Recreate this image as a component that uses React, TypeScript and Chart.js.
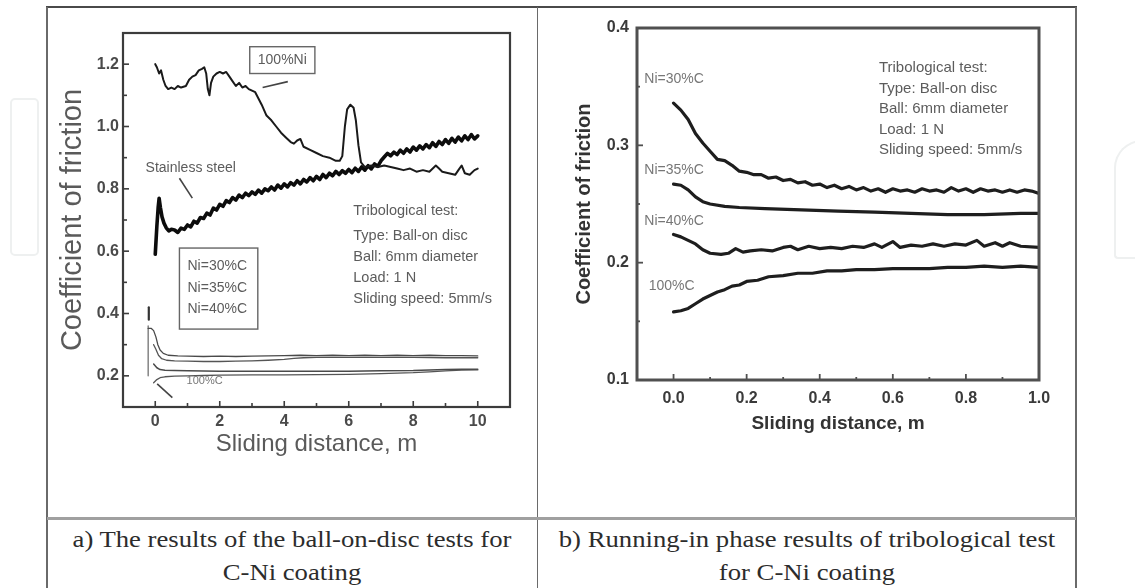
import React, { useEffect, useRef } from "react";
import { Chart, registerables } from "chart.js";

Chart.register(...registerables);

const SANS = "'Liberation Sans', Arial, sans-serif";
const SERIF = "'Liberation Serif', 'Times New Roman', serif";

// ---------------- Left panel data (a) ----------------
const NI100_X = [0.0, 0.05, 0.12, 0.18, 0.25, 0.32, 0.4, 0.5, 0.6, 0.7, 0.8, 0.95, 1.05, 1.15, 1.25, 1.35, 1.45, 1.52, 1.58, 1.63, 1.68, 1.73, 1.8, 1.9, 2.0, 2.1, 2.2, 2.3, 2.4, 2.5, 2.6, 2.7, 2.8, 2.9, 3.0, 3.1, 3.2, 3.3, 3.45, 3.6, 3.75, 3.9, 4.05, 4.2, 4.3, 4.4, 4.5, 4.6, 4.8, 5.0, 5.2, 5.4, 5.6, 5.72, 5.8, 5.88, 5.95, 6.05, 6.15, 6.22, 6.3, 6.38, 6.5, 6.7, 6.9, 7.1, 7.3, 7.5, 7.7, 7.9, 8.1, 8.3, 8.5, 8.7, 8.8, 8.9, 9.1, 9.3, 9.4, 9.5, 9.6, 9.75, 9.9, 10.0];
const NI100_Y = [1.2, 1.19, 1.17, 1.18, 1.15, 1.13, 1.12, 1.125, 1.12, 1.13, 1.125, 1.13, 1.15, 1.16, 1.165, 1.18, 1.185, 1.19, 1.17, 1.12, 1.1, 1.14, 1.16, 1.17, 1.175, 1.17, 1.175, 1.16, 1.145, 1.13, 1.14, 1.125, 1.13, 1.12, 1.115, 1.11, 1.09, 1.07, 1.035, 1.02, 1.0, 0.98, 0.965, 0.95, 0.945, 0.955, 0.96, 0.935, 0.925, 0.915, 0.905, 0.9, 0.89, 0.89, 0.905, 1.0, 1.055, 1.07, 1.06, 1.02, 0.94, 0.885, 0.87, 0.875, 0.87, 0.875, 0.87, 0.865, 0.86, 0.865, 0.855, 0.86, 0.855, 0.875, 0.865, 0.855, 0.85, 0.845, 0.86, 0.875, 0.85, 0.845, 0.86, 0.865];

const STEEL_X = [0.0, 0.05, 0.09, 0.12, 0.16, 0.21, 0.27, 0.34, 0.42, 0.5, 0.6, 0.7, 0.8, 0.9, 1.0, 1.1, 1.2, 1.3, 1.4, 1.5, 1.6, 1.7, 1.8, 1.9, 2.0, 2.1, 2.2, 2.3, 2.4, 2.5, 2.6, 2.7, 2.8, 2.9, 3.0, 3.1, 3.2, 3.3, 3.4, 3.5, 3.6, 3.7, 3.8, 3.9, 4.0, 4.1, 4.2, 4.3, 4.4, 4.5, 4.6, 4.7, 4.8, 4.9, 5.0, 5.1, 5.2, 5.3, 5.4, 5.5, 5.6, 5.7, 5.8, 5.9, 6.0, 6.1, 6.2, 6.3, 6.4, 6.5, 6.6, 6.7, 6.8, 6.9, 7.0, 7.1, 7.2, 7.3, 7.4, 7.5, 7.6, 7.7, 7.8, 7.9, 8.0, 8.1, 8.2, 8.3, 8.4, 8.5, 8.6, 8.7, 8.8, 8.9, 9.0, 9.1, 9.2, 9.3, 9.4, 9.5, 9.6, 9.7, 9.8, 9.9, 10.0];
const STEEL_Y = [0.59, 0.68, 0.74, 0.77, 0.74, 0.71, 0.69, 0.675, 0.665, 0.67, 0.668, 0.66, 0.674, 0.67, 0.684, 0.678, 0.696, 0.69, 0.708, 0.705, 0.722, 0.716, 0.738, 0.732, 0.75, 0.744, 0.762, 0.756, 0.772, 0.764, 0.78, 0.772, 0.786, 0.778, 0.79, 0.782, 0.796, 0.786, 0.8, 0.794, 0.806, 0.796, 0.812, 0.802, 0.816, 0.806, 0.82, 0.812, 0.826, 0.816, 0.83, 0.822, 0.836, 0.826, 0.84, 0.83, 0.846, 0.836, 0.85, 0.842, 0.856, 0.846, 0.858, 0.85, 0.862, 0.852, 0.866, 0.856, 0.87, 0.86, 0.874, 0.864, 0.88, 0.872, 0.89, 0.902, 0.914, 0.906, 0.918, 0.91, 0.924, 0.914, 0.928, 0.918, 0.934, 0.924, 0.938, 0.928, 0.942, 0.932, 0.948, 0.936, 0.952, 0.942, 0.958, 0.946, 0.962, 0.95, 0.966, 0.954, 0.97, 0.958, 0.974, 0.96, 0.97];

const LA30_X = [-0.22, -0.12, -0.05, 0.02, 0.08, 0.15, 0.25, 0.4, 0.7, 1.0, 1.5, 2.0, 2.5, 3.0, 3.5, 4.0, 4.5, 5.0, 5.5, 6.0, 6.5, 7.0, 7.5, 8.0, 8.5, 9.0, 9.5, 10.0];
const LA30_Y = [0.352, 0.352, 0.345, 0.325, 0.3, 0.283, 0.272, 0.266, 0.264, 0.263, 0.262, 0.263, 0.262, 0.263, 0.264, 0.265, 0.266, 0.265, 0.266, 0.265, 0.266, 0.265, 0.266, 0.265, 0.266, 0.265, 0.265, 0.264];
const LA35_X = [-0.05, 0.02, 0.1, 0.2, 0.35, 0.6, 1.0, 1.5, 2.0, 2.5, 3.0, 3.5, 4.0, 4.3, 4.6, 5.0, 6.0, 7.0, 8.0, 9.0, 10.0];
const LA35_Y = [0.3, 0.285, 0.266, 0.255, 0.25, 0.248, 0.247, 0.246, 0.246, 0.247, 0.248, 0.25, 0.253, 0.256, 0.258, 0.259, 0.259, 0.259, 0.259, 0.258, 0.258];
const LA40_X = [-0.05, 0.05, 0.15, 0.3, 0.6, 1.0, 2.0, 3.0, 4.0, 5.0, 6.0, 7.0, 8.0, 8.5, 9.0, 9.5, 10.0];
const LA40_Y = [0.238, 0.226, 0.22, 0.218, 0.217, 0.216, 0.215, 0.215, 0.215, 0.215, 0.215, 0.216, 0.217, 0.219, 0.22, 0.221, 0.221];
const LA100C_X = [-0.05, 0.05, 0.15, 0.3, 0.6, 1.0, 1.5, 2.0, 3.0, 4.0, 5.0, 6.0, 7.0, 8.0, 8.5, 9.0, 9.5, 10.0];
const LA100C_Y = [0.178, 0.188, 0.194, 0.197, 0.199, 0.2, 0.201, 0.202, 0.203, 0.203, 0.204, 0.205, 0.207, 0.21, 0.213, 0.216, 0.218, 0.219];
const SPIKE_X = [-0.22, -0.22];
const SPIKE_Y = [0.2, 0.36];
const SPIKE_TOP_X = [-0.2, -0.2];
const SPIKE_TOP_Y = [0.38, 0.42];

const LEFT_X_MAJOR = [0, 2, 4, 6, 8, 10];
const LEFT_X_MINOR = [1, 3, 5, 7, 9];
const LEFT_Y_MAJOR = [0.2, 0.4, 0.6, 0.8, 1.0, 1.2];
const LEFT_Y_MINOR = [0.3, 0.5, 0.7, 0.9, 1.1];

// ---------------- Right panel data (b) ----------------
const R30_X = [0.0, 0.02, 0.04, 0.06, 0.08, 0.1, 0.12, 0.14, 0.16, 0.18, 0.2, 0.22, 0.24, 0.26, 0.28, 0.3, 0.32, 0.34, 0.36, 0.38, 0.4, 0.42, 0.44, 0.46, 0.48, 0.5, 0.52, 0.54, 0.56, 0.58, 0.6, 0.62, 0.64, 0.66, 0.68, 0.7, 0.72, 0.74, 0.76, 0.78, 0.8, 0.82, 0.84, 0.86, 0.88, 0.9, 0.92, 0.94, 0.96, 0.98, 1.0];
const R30_Y = [0.336, 0.33, 0.322, 0.31, 0.302, 0.295, 0.288, 0.287, 0.283, 0.278, 0.277, 0.275, 0.275, 0.272, 0.273, 0.27, 0.271, 0.268, 0.269, 0.266, 0.267, 0.264, 0.266, 0.263, 0.265, 0.262, 0.264, 0.261, 0.263, 0.26, 0.263, 0.261, 0.262, 0.26, 0.263, 0.261, 0.262, 0.26, 0.264, 0.261, 0.263, 0.26, 0.263, 0.261, 0.262, 0.26, 0.262, 0.26, 0.262, 0.261, 0.259];
const R35_X = [0.0, 0.02, 0.04, 0.06, 0.08, 0.1, 0.14, 0.18, 0.25, 0.35, 0.45, 0.55, 0.65, 0.75, 0.85, 0.95, 1.0];
const R35_Y = [0.267, 0.266, 0.262, 0.256, 0.252, 0.25, 0.248, 0.247, 0.246, 0.245, 0.244, 0.243, 0.242, 0.241, 0.241, 0.242, 0.242];
const R40_X = [0.0, 0.02, 0.04, 0.06, 0.08, 0.1, 0.13, 0.15, 0.17, 0.19, 0.21, 0.24, 0.27, 0.3, 0.32, 0.34, 0.37, 0.4, 0.43, 0.46, 0.49, 0.52, 0.55, 0.57, 0.6, 0.62, 0.65, 0.68, 0.71, 0.74, 0.77, 0.8, 0.83, 0.85, 0.88, 0.9, 0.92, 0.95, 1.0];
const R40_Y = [0.224, 0.222, 0.219, 0.216, 0.211, 0.208, 0.207, 0.208, 0.212, 0.209, 0.21, 0.211, 0.21, 0.213, 0.214, 0.211, 0.214, 0.212, 0.213, 0.212, 0.214, 0.213, 0.216, 0.213, 0.218, 0.213, 0.215, 0.214, 0.216, 0.214, 0.216, 0.215, 0.219, 0.214, 0.217, 0.214, 0.217, 0.214, 0.213];
const R100C_X = [0.0, 0.02, 0.04, 0.06, 0.08, 0.1, 0.12, 0.14, 0.16, 0.18, 0.2, 0.23, 0.26, 0.3, 0.34, 0.38, 0.42, 0.46, 0.5, 0.55, 0.6, 0.65, 0.7, 0.75, 0.8, 0.85, 0.9, 0.95, 1.0];
const R100C_Y = [0.158, 0.159, 0.161, 0.165, 0.169, 0.172, 0.175, 0.177, 0.18, 0.181, 0.184, 0.185, 0.188, 0.189, 0.191, 0.191, 0.193, 0.193, 0.194, 0.194, 0.195, 0.195, 0.195, 0.196, 0.196, 0.197, 0.196, 0.197, 0.196];

const RIGHT_X_MAJOR = [0, 0.2, 0.4, 0.6, 0.8, 1.0];
const RIGHT_X_MINOR = [0.1, 0.3, 0.5, 0.7, 0.9];
const RIGHT_Y_MAJOR = [0.1, 0.2, 0.3, 0.4];
const RIGHT_Y_MINOR = [0.15, 0.25, 0.35];

// ---------------- Text ----------------
const TRIBO_LINES = ["Tribological test:", "Type: Ball-on disc", "Ball: 6mm diameter", "Load: 1 N", "Sliding speed: 5mm/s"];
const LEFT_TRIBO_Y = [0.728, 0.648, 0.581, 0.514, 0.446];
const RIGHT_TRIBO_Y = [0.366, 0.348, 0.331, 0.313, 0.296];
const NI_LABELS = ["Ni=30%C", "Ni=35%C", "Ni=40%C"];
const LEFT_NI_LABEL_Y = [0.552, 0.482, 0.414];
const RIGHT_SERIES_LABELS = ["Ni=30%C", "Ni=35%C", "Ni=40%C", "100%C"];
const RIGHT_SERIES_LABEL_Y = [0.356, 0.279, 0.235, 0.18];
const CAPTION_A = ["a) The results of the ball-on-disc tests for", "C-Ni coating"];
const CAPTION_B = ["b) Running-in phase results of tribological test", "for C-Ni coating"];

type Note = { text: string; x: number; y: number; align?: CanvasTextAlign; size?: number; color?: string };

const LEFT_NOTES: Note[] = [
  { text: "100%Ni", x: 3.94, y: 1.213, align: "center" },
  { text: "Stainless steel", x: -0.3, y: 0.866 },
  ...NI_LABELS.map((t, i) => ({ text: t, x: 1.0, y: LEFT_NI_LABEL_Y[i] })),
  ...TRIBO_LINES.map((t, i) => ({ text: t, x: 6.14, y: LEFT_TRIBO_Y[i], size: 14.5 })),
  { text: "100%C", x: 0.97, y: 0.184, size: 11, color: "#777" },
];
const LEFT_BOXES = [
  [2.93, 1.256, 4.95, 1.17],
  [0.75, 0.61, 3.18, 0.35],
];
const LEFT_POINTERS = [
  [3.33, 1.125, 4.11, 1.144],
  [0.75, 0.834, 1.15, 0.77],
  [0.06, 0.174, 0.53, 0.13],
];

const RIGHT_NOTES: Note[] = [
  ...RIGHT_SERIES_LABELS.map((t, i) => ({ text: t, x: i === 3 ? -0.068 : -0.08, y: RIGHT_SERIES_LABEL_Y[i], color: "#777" })),
  ...TRIBO_LINES.map((t, i) => ({ text: t, x: 0.562, y: RIGHT_TRIBO_Y[i], size: 15 })),
];

function pts(xs: number[], ys: number[]) {
  return xs.map((x, i) => ({ x, y: ys[i] }));
}

function ds(xs: number[], ys: number[], color: string, width: number) {
  return {
    data: pts(xs, ys),
    borderColor: color,
    backgroundColor: color,
    borderWidth: width,
    showLine: true,
    pointRadius: 0,
    tension: 0,
    fill: false,
    borderJoinStyle: "round" as const,
    borderCapStyle: "round" as const,
  };
}

const decor = {
  id: "decor",
  afterDatasetsDraw(chart: any, _a: any, o: any) {
    const { ctx, chartArea: a } = chart;
    const sx = chart.scales.x;
    const sy = chart.scales.y;
    const X = (v: number) => sx.getPixelForValue(v);
    const Y = (v: number) => sy.getPixelForValue(v);
    ctx.save();
    ctx.strokeStyle = o.boxColor;
    ctx.lineWidth = 1.4;
    for (const b of o.boxes) {
      ctx.strokeRect(X(b[0]), Y(b[1]), X(b[2]) - X(b[0]), Y(b[3]) - Y(b[1]));
    }
    ctx.strokeStyle = o.pointerColor;
    ctx.lineWidth = 1.6;
    for (const p of o.pointers) {
      ctx.beginPath();
      ctx.moveTo(X(p[0]), Y(p[1]));
      ctx.lineTo(X(p[2]), Y(p[3]));
      ctx.stroke();
    }
    ctx.textBaseline = "middle";
    for (const n of o.notes as Note[]) {
      ctx.font = `${n.size ?? o.noteSize}px ${SANS}`;
      ctx.fillStyle = n.color ?? o.noteColor;
      ctx.textAlign = n.align ?? "left";
      ctx.fillText(n.text, X(n.x), Y(n.y));
    }
    ctx.strokeStyle = o.frameColor;
    ctx.lineWidth = o.frameWidth;
    ctx.strokeRect(a.left, a.top, a.right - a.left, a.bottom - a.top);
    ctx.lineWidth = o.tickWidth;
    const xt = (vals: number[], len: number) => {
      for (const v of vals) {
        const px = X(v);
        ctx.beginPath();
        ctx.moveTo(px, a.bottom);
        ctx.lineTo(px, a.bottom - len);
        ctx.stroke();
      }
    };
    const yt = (vals: number[], len: number) => {
      for (const v of vals) {
        const py = Y(v);
        ctx.beginPath();
        ctx.moveTo(a.left, py);
        ctx.lineTo(a.left + len, py);
        ctx.stroke();
      }
    };
    xt(o.xMajor, o.majorLen);
    xt(o.xMinor, o.minorLen);
    yt(o.yMajor, o.majorLen);
    yt(o.yMinor, o.minorLen);
    ctx.restore();
  },
};

function buildOptions(c: any) {
  return {
    animation: false,
    responsive: false,
    devicePixelRatio: 1,
    layout: { padding: c.pad },
    plugins: {
      legend: { display: false },
      tooltip: { enabled: false },
      decor: c.decor,
    },
    scales: {
      x: {
        type: "linear",
        min: c.xMin,
        max: c.xMax,
        grid: { display: false, drawTicks: false },
        border: { display: false },
        afterBuildTicks: (s: any) => {
          s.ticks = c.decor.xMajor.map((value: number) => ({ value }));
        },
        afterFit: (s: any) => {
          s.height = c.xH;
        },
        ticks: {
          autoSkip: false,
          maxRotation: 0,
          padding: c.xTickPad,
          font: c.tickFont,
          color: c.tickColor,
          callback: c.xFmt,
        },
        title: {
          display: true,
          text: "Sliding distance, m",
          font: c.xTitleFont,
          color: c.titleColor,
          padding: { top: 0, bottom: c.xTitlePad },
        },
      },
      y: {
        type: "linear",
        min: c.yMin,
        max: c.yMax,
        grid: { display: false, drawTicks: false },
        border: { display: false },
        afterBuildTicks: (s: any) => {
          s.ticks = c.decor.yMajor.map((value: number) => ({ value }));
        },
        afterFit: (s: any) => {
          s.width = c.yW;
        },
        ticks: {
          autoSkip: false,
          padding: c.yTickPad,
          font: c.tickFont,
          color: c.tickColor,
          callback: (v: number) => v.toFixed(1),
        },
        title: {
          display: true,
          text: "Coefficient of friction",
          font: c.yTitleFont,
          color: c.titleColor,
          padding: { top: c.yTitlePad, bottom: 0 },
        },
      },
    },
  };
}

function LeftChart() {
  const ref = useRef<HTMLCanvasElement>(null);
  useEffect(() => {
    const chart = new Chart(ref.current as HTMLCanvasElement, {
      type: "scatter",
      data: {
        datasets: [
          ds(LA30_X, LA30_Y, "#4a4a4a", 1.3),
          ds(LA35_X, LA35_Y, "#555", 1.3),
          ds(LA40_X, LA40_Y, "#4a4a4a", 1.5),
          ds(LA100C_X, LA100C_Y, "#555", 1.3),
          ds(SPIKE_X, SPIKE_Y, "#666", 1.2),
          ds(SPIKE_TOP_X, SPIKE_TOP_Y, "#333", 2.2),
          ds(NI100_X, NI100_Y, "#1a1a1a", 2.0),
          ds(STEEL_X, STEEL_Y, "#0c0c0c", 3.6),
        ] as any,
      },
      options: buildOptions({
        pad: { left: 0, top: 24, right: 26, bottom: 0 },
        xMin: -1,
        xMax: 11,
        yMin: 0.1,
        yMax: 1.3,
        xH: 109,
        yW: 75,
        xTickPad: 5,
        yTickPad: 4,
        tickFont: { family: SANS, size: 16, weight: "bold" },
        tickColor: "#4a4a4a",
        titleColor: "#5a5a5a",
        xTitleFont: { family: SANS, size: 24 },
        yTitleFont: { family: SANS, size: 29 },
        xTitlePad: 57,
        yTitlePad: 8,
        xFmt: (v: number) => String(v),
        decor: {
          boxes: LEFT_BOXES,
          pointers: LEFT_POINTERS,
          notes: LEFT_NOTES,
          boxColor: "#666",
          pointerColor: "#444",
          noteSize: 14,
          noteColor: "#5c5c5c",
          frameColor: "#3c3c3c",
          frameWidth: 2.2,
          tickWidth: 1.6,
          majorLen: 6,
          minorLen: 4,
          xMajor: LEFT_X_MAJOR,
          xMinor: LEFT_X_MINOR,
          yMajor: LEFT_Y_MAJOR,
          yMinor: LEFT_Y_MINOR,
        },
      }) as any,
      plugins: [decor],
    });
    return () => chart.destroy();
  }, []);
  return <canvas ref={ref} width={488} height={507} style={{ position: "absolute", left: 48, top: 9, width: 488, height: 507 }} />;
}

function RightChart() {
  const ref = useRef<HTMLCanvasElement>(null);
  useEffect(() => {
    const chart = new Chart(ref.current as HTMLCanvasElement, {
      type: "scatter",
      data: {
        datasets: [
          ds(R30_X, R30_Y, "#1e1e1e", 3.2),
          ds(R35_X, R35_Y, "#1e1e1e", 3.2),
          ds(R40_X, R40_Y, "#1e1e1e", 3.2),
          ds(R100C_X, R100C_Y, "#1e1e1e", 3.2),
        ] as any,
      },
      options: buildOptions({
        pad: { left: 0, top: 19, right: 36, bottom: 0 },
        xMin: -0.1,
        xMax: 1.0,
        yMin: 0.1,
        yMax: 0.4,
        xH: 136,
        yW: 99,
        xTickPad: 9,
        yTickPad: 8,
        tickFont: { family: SANS, size: 16, weight: "bold" },
        tickColor: "#3a3a3a",
        titleColor: "#333",
        xTitleFont: { family: SANS, size: 19, weight: "bold" },
        yTitleFont: { family: SANS, size: 20, weight: "bold" },
        xTitlePad: 81,
        yTitlePad: 34,
        xFmt: (v: number) => v.toFixed(1),
        decor: {
          boxes: [],
          pointers: [],
          notes: RIGHT_NOTES,
          boxColor: "#666",
          pointerColor: "#444",
          noteSize: 14,
          noteColor: "#5c5c5c",
          frameColor: "#505050",
          frameWidth: 3,
          tickWidth: 1.8,
          majorLen: 6,
          minorLen: 3,
          xMajor: RIGHT_X_MAJOR,
          xMinor: RIGHT_X_MINOR,
          yMajor: RIGHT_Y_MAJOR,
          yMinor: RIGHT_Y_MINOR,
        },
      }) as any,
      plugins: [decor],
    });
    return () => chart.destroy();
  }, []);
  return <canvas ref={ref} width={537} height={507} style={{ position: "absolute", left: 538, top: 9, width: 537, height: 507 }} />;
}

const abs = (s: React.CSSProperties): React.CSSProperties => ({ position: "absolute", ...s });

export default function App() {
  const capStyle = (left: number, top: number): React.CSSProperties =>
    abs({
      left,
      top,
      width: 490,
      textAlign: "center",
      fontFamily: SERIF,
      fontSize: 23,
      lineHeight: "33px",
      color: "#2c2c2c",
      whiteSpace: "nowrap",
      transform: "scaleX(1.16)",
      transformOrigin: "50% 50%",
    });
  return (
    <div style={abs({ left: 0, top: 0, width: 1135, height: 588, background: "#fff", overflow: "hidden" })}>
      <div style={abs({ left: 10, top: 98, width: 25, height: 154, border: "2px solid #eef0f0", borderRadius: 5 })} />
      <div style={abs({ left: 1114, top: 140, width: 60, height: 115, borderLeft: "2px solid #eef0f0", borderTop: "2px solid #eef0f0", borderBottom: "2px solid #eef0f0", borderRadius: "28px 0 0 4px" })} />
      <div style={abs({ left: 46, top: 6, width: 1031, height: 2, background: "#4a4a4a" })} />
      <div style={abs({ left: 46, top: 7, width: 1.5, height: 590, background: "#6a6a6a" })} />
      <div style={abs({ left: 536.5, top: 7, width: 1.5, height: 590, background: "#6a6a6a" })} />
      <div style={abs({ left: 1075, top: 7, width: 1.5, height: 590, background: "#6a6a6a" })} />
      <div style={abs({ left: 47, top: 517, width: 1029, height: 3, background: "#a0a0a0" })} />
      <LeftChart />
      <RightChart />
      <div style={capStyle(47, 523)}>
        {CAPTION_A[0]}
        <br />
        {CAPTION_A[1]}
      </div>
      <div style={capStyle(562, 523)}>
        {CAPTION_B[0]}
        <br />
        {CAPTION_B[1]}
      </div>
    </div>
  );
}
